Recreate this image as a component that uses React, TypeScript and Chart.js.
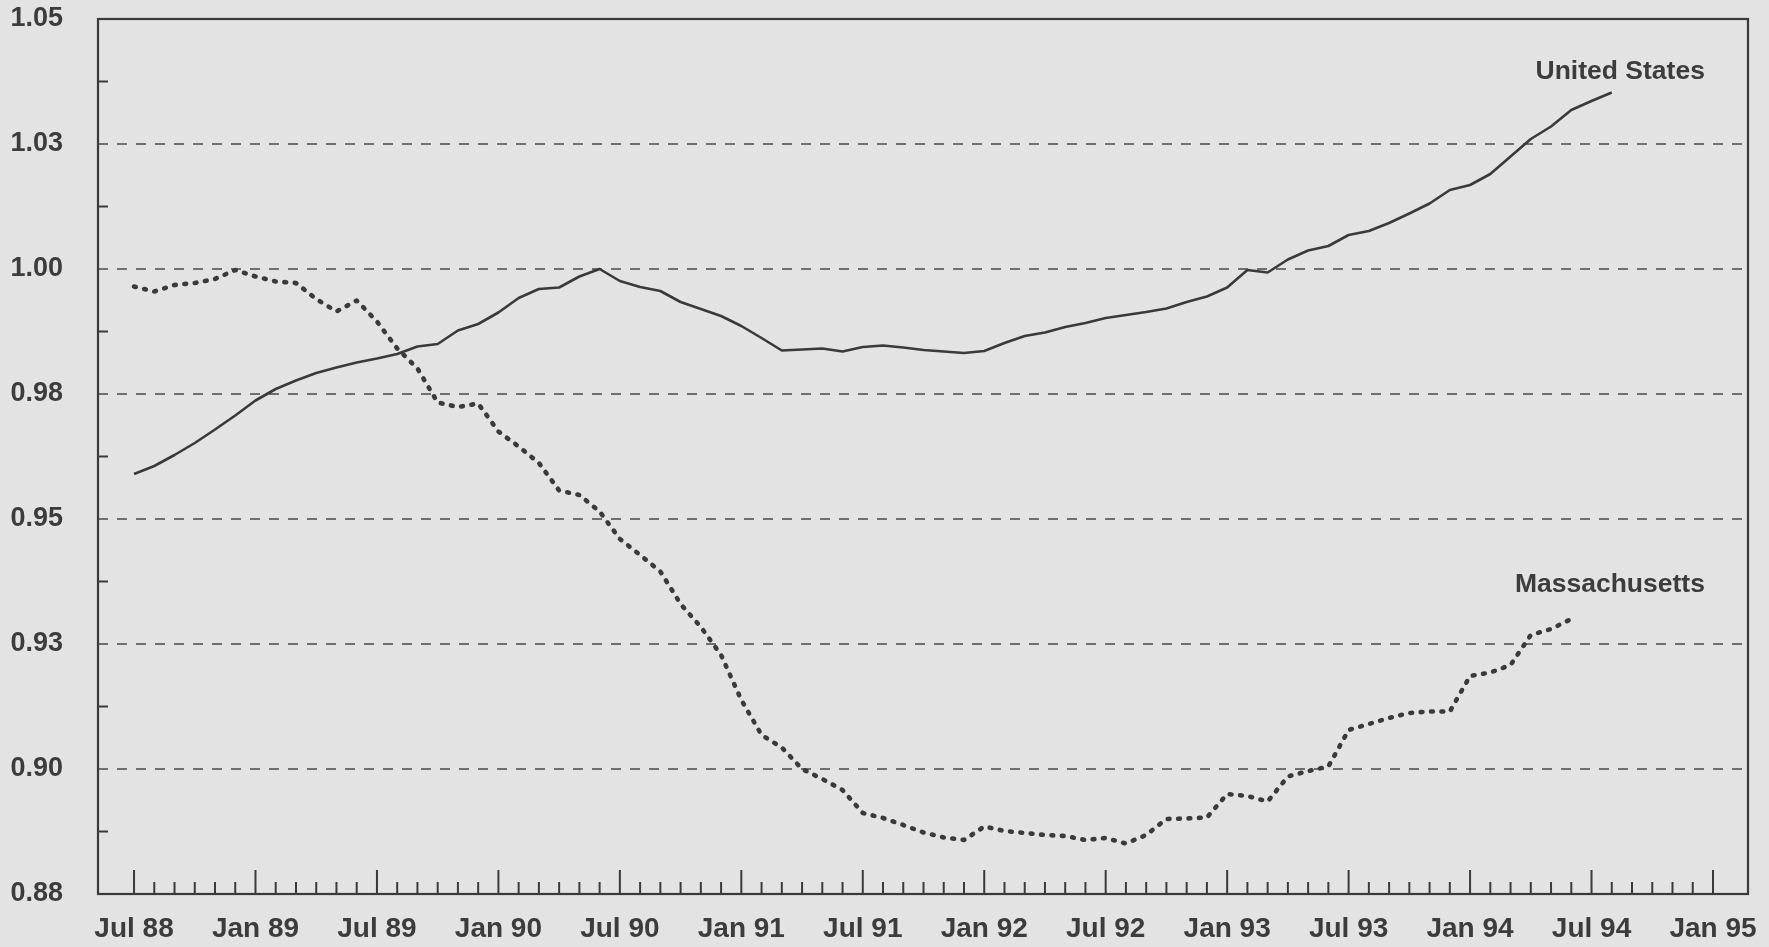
import React, { useEffect, useRef } from "react";
import { Chart, registerables } from "chart.js";

Chart.register(...registerables);

// Month index 0 = Jul 88
const usValues = [
  0.9590, 0.9606, 0.9628, 0.9652, 0.9679, 0.9707, 0.9737, 0.9760, 0.9777, 0.9792,
  0.9803, 0.9813, 0.9821, 0.9830, 0.9845, 0.9850, 0.9877, 0.9890, 0.9913, 0.9942,
  0.9960, 0.9963, 0.9985, 1.0000, 0.9976, 0.9964, 0.9956, 0.9934, 0.9920, 0.9906,
  0.9886, 0.9862, 0.9837, 0.9839, 0.9841, 0.9835, 0.9844, 0.9847, 0.9843, 0.9838,
  0.9835, 0.9832, 0.9836, 0.9852, 0.9866, 0.9873, 0.9884, 0.9892, 0.9902, 0.9908,
  0.9914, 0.9921, 0.9934, 0.9945, 0.9963, 0.9998, 0.9993, 1.0019, 1.0037, 1.0046,
  1.0068, 1.0076, 1.0092, 1.0111, 1.0131, 1.0158, 1.0168, 1.0190, 1.0225, 1.0260,
  1.0285, 1.0318, 1.0336, 1.0353,
];

const maValues = [
  0.9965, 0.9955, 0.9968, 0.9972, 0.9980, 0.9998, 0.9985, 0.9975, 0.9972, 0.9940,
  0.9915, 0.9937, 0.9895, 0.9841, 0.9801, 0.9733, 0.9724, 0.9731, 0.9675, 0.9645,
  0.9612, 0.9557, 0.9548, 0.9515, 0.9460, 0.9428, 0.9395, 0.9330, 0.9284, 0.9228,
  0.9138, 0.9068, 0.9043, 0.9000, 0.8980, 0.8958, 0.8912, 0.8902, 0.8888, 0.8873,
  0.8863, 0.8858, 0.8885, 0.8876, 0.8872, 0.8868, 0.8866, 0.8858, 0.8862, 0.8851,
  0.8868, 0.8900, 0.8901, 0.8903, 0.8950, 0.8946, 0.8935, 0.8985, 0.8996, 0.9005,
  0.9078, 0.9090, 0.9102, 0.9112, 0.9115, 0.9115, 0.9186, 0.9193, 0.9208, 0.9268,
  0.9280, 0.9300,
];

const xTickMonths = [0, 6, 12, 18, 24, 30, 36, 42, 48, 54, 60, 66, 72, 78];
const xTickLabels = [
  "Jul 88", "Jan 89", "Jul 89", "Jan 90", "Jul 90", "Jan 91", "Jul 91",
  "Jan 92", "Jul 92", "Jan 93", "Jul 93", "Jan 94", "Jul 94", "Jan 95",
];

const yTickValues = [0.875, 0.9, 0.925, 0.95, 0.975, 1.0, 1.025, 1.05];
const yTickLabels = ["0.88", "0.90", "0.93", "0.95", "0.98", "1.00", "1.03", "1.05"];
const yGridValues = [0.9, 0.925, 0.95, 0.975, 1.0, 1.025];
const yMinorValues = [0.8875, 0.9125, 0.9375, 0.9625, 0.9875, 1.0125, 1.0375];

const seriesNames = ["United States", "Massachusetts"];
const annotationX = [77.6, 77.6];
const annotationY = [1.0395, 0.9368];

const X_MIN = -1.78;
const X_MAX = 79.73;
const Y_MIN = 0.875;
const Y_MAX = 1.05;

const INK = "#3a3a3a";
const TEXT = "#3c3c3c";
const BG = "#e3e3e3";
const FONT_FAMILY = "'Liberation Sans', Arial, sans-serif";

const decorPlugin = {
  id: "decor",
  beforeDatasetsDraw(chart: any) {
    const { ctx, chartArea: a, scales } = chart;
    const x = scales.x;
    const y = scales.y;
    ctx.save();
    // dashed grid lines
    ctx.strokeStyle = "#4a4a4a";
    ctx.lineWidth = 1.5;
    ctx.setLineDash([10, 9]);
    for (const v of yGridValues) {
      const py = y.getPixelForValue(v);
      ctx.beginPath();
      ctx.moveTo(a.left, py);
      ctx.lineTo(a.right, py);
      ctx.stroke();
    }
    ctx.setLineDash([]);
    ctx.strokeStyle = INK;
    ctx.lineWidth = 2;
    // y minor ticks
    for (const v of yMinorValues) {
      const py = y.getPixelForValue(v);
      ctx.beginPath();
      ctx.moveTo(a.left, py);
      ctx.lineTo(a.left + 10, py);
      ctx.stroke();
    }
    // x month ticks
    for (let m = 0; m <= 78; m++) {
      const px = x.getPixelForValue(m);
      const len = m % 6 === 0 ? 24 : 12;
      ctx.beginPath();
      ctx.moveTo(px, a.bottom);
      ctx.lineTo(px, a.bottom - len);
      ctx.stroke();
    }
    // frame
    ctx.lineWidth = 2.2;
    ctx.strokeRect(a.left, a.top, a.right - a.left, a.bottom - a.top);
    ctx.restore();
  },
  afterDatasetsDraw(chart: any) {
    const { ctx, scales } = chart;
    ctx.save();
    ctx.fillStyle = TEXT;
    ctx.font = `bold 26.5px ${FONT_FAMILY}`;
    ctx.textAlign = "right";
    ctx.textBaseline = "middle";
    seriesNames.forEach((name, i) => {
      ctx.fillText(name, scales.x.getPixelForValue(annotationX[i]), scales.y.getPixelForValue(annotationY[i]));
    });
    ctx.restore();
  },
};

export default function App() {
  const canvasRef = useRef<HTMLCanvasElement | null>(null);

  useEffect(() => {
    document.body.style.background = BG;
    const canvas = canvasRef.current;
    if (!canvas) return;
    const chart = new Chart(canvas, {
      type: "line",
      data: {
        datasets: [
          {
            label: seriesNames[0],
            data: usValues.map((v, i) => ({ x: i, y: v })),
            borderColor: INK,
            borderWidth: 2.6,
            pointRadius: 0,
            tension: 0,
            borderJoinStyle: "round",
            fill: false,
          },
          {
            label: seriesNames[1],
            data: maValues.map((v, i) => ({ x: i, y: v })),
            borderColor: INK,
            borderWidth: 4.6,
            borderDash: [1.8, 8.6],
            borderCapStyle: "round",
            borderJoinStyle: "round",
            pointRadius: 0,
            tension: 0,
            fill: false,
          },
        ],
      },
      options: {
        animation: false,
        responsive: false,
        maintainAspectRatio: false,
        devicePixelRatio: 1,
        layout: { padding: { top: 19, right: 21, left: 0, bottom: 0 } },
        plugins: { legend: { display: false }, tooltip: { enabled: false } },
        scales: {
          x: {
            type: "linear",
            min: X_MIN,
            max: X_MAX,
            grid: { display: false, drawTicks: false },
            border: { display: false },
            afterBuildTicks: (s: any) => {
              s.ticks = xTickMonths.map((v) => ({ value: v }));
            },
            afterFit: (s: any) => {
              s.height = 53;
              s.paddingLeft = 0;
              s.paddingRight = 0;
              s.paddingTop = 0;
              s.paddingBottom = 0;
            },
            ticks: {
              autoSkip: false,
              maxRotation: 0,
              minRotation: 0,
              padding: 18,
              color: TEXT,
              font: { family: FONT_FAMILY, size: 28, weight: "bold" },
              callback: (_v: any, idx: number) => xTickLabels[idx],
            },
          },
          y: {
            type: "linear",
            min: Y_MIN,
            max: Y_MAX,
            grid: { display: false, drawTicks: false },
            border: { display: false },
            afterBuildTicks: (s: any) => {
              s.ticks = yTickValues.map((v) => ({ value: v }));
            },
            afterFit: (s: any) => {
              s.width = 98;
              s.paddingLeft = 0;
              s.paddingRight = 0;
              s.paddingTop = 0;
              s.paddingBottom = 0;
            },
            ticks: {
              autoSkip: false,
              padding: 35,
              color: TEXT,
              font: { family: FONT_FAMILY, size: 27, weight: "bold" },
              callback: (_v: any, idx: number) => yTickLabels[idx],
            },
          },
        },
      },
      plugins: [decorPlugin],
    });
    return () => chart.destroy();
  }, []);

  return (
    <div
      style={{
        position: "fixed",
        left: 0,
        top: 0,
        width: 1769,
        height: 947,
        background: BG,
      }}
    >
      <canvas ref={canvasRef} width={1769} height={947} style={{ display: "block" }} />
    </div>
  );
}
